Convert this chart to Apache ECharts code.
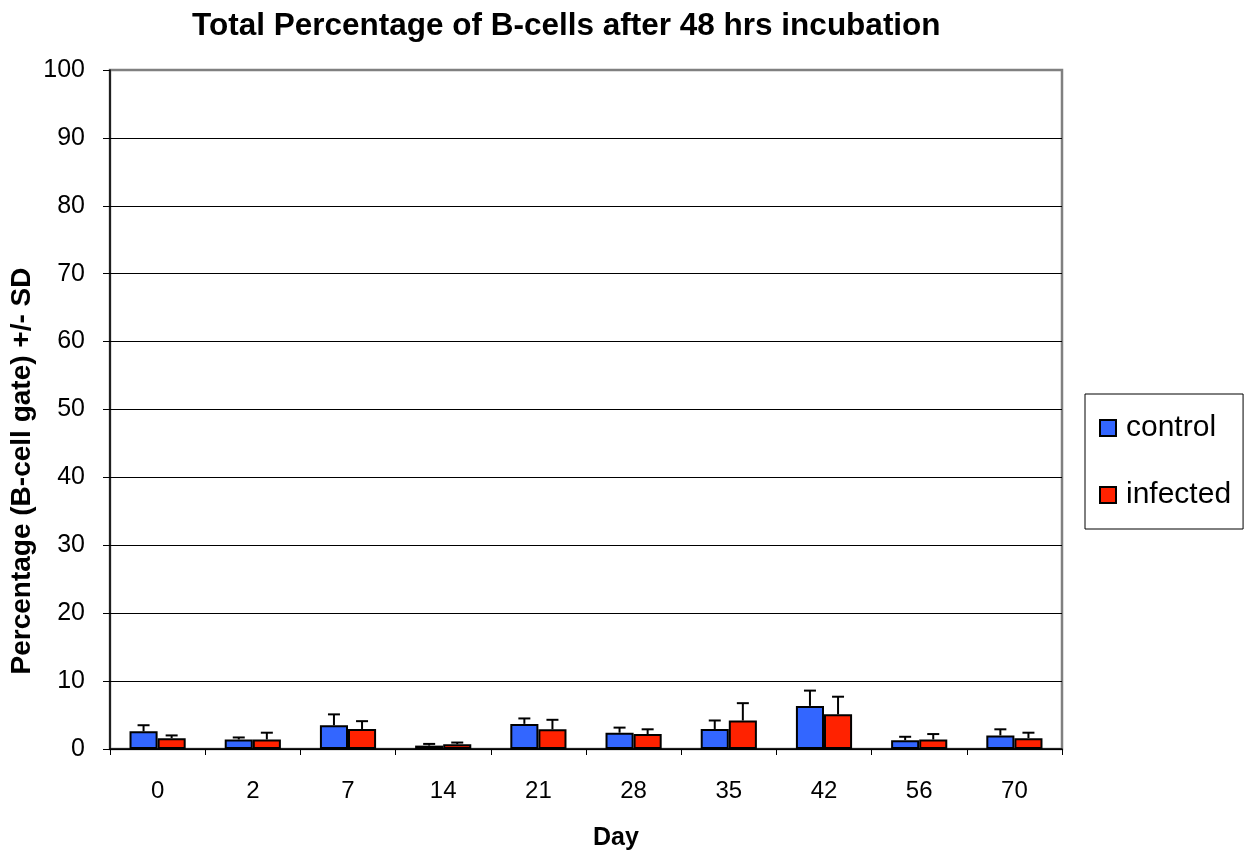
<!DOCTYPE html>
<html>
<head>
<meta charset="utf-8">
<script src="https://cdn.jsdelivr.net/npm/echarts@6/dist/echarts.min.js"></script>
<style>
html,body{margin:0;padding:0;background:#fff;}
#chart{width:1250px;height:853px;}
</style>
</head>
<body>
<div id="chart"></div>
<script>
var days = ['0','2','7','14','21','28','35','42','56','70'];
var control = [2.6,1.4,3.5,0.5,3.7,2.4,2.95,6.35,1.3,2.0];
var controlSD = [0.9,0.3,1.6,0.25,0.8,0.75,1.25,2.25,0.5,0.9];
var infected = [1.6,1.4,2.95,0.7,2.9,2.2,4.2,5.1,1.4,1.6];
var infectedSD = [0.4,1.0,1.15,0.25,1.4,0.7,2.55,2.6,0.8,0.8];
var seriesNames = ['control','infected'];
var titleText = 'Total Percentage of B-cells after 48 hrs incubation';
var yName = 'Percentage (B-cell gate) +/- SD';
var xName = 'Day';

var FONT = "'Liberation Sans', Arial, sans-serif";
var GAP = 0.41;

function errData(vals, sds){
  return vals.map(function(v,i){ return [i, v, sds[i]]; });
}
function errRender(side){
  return function(params, api){
    var i = api.value(0), v = api.value(1), sd = api.value(2);
    var band = api.size([1,0])[0];
    var bw = band*(1-GAP)/2;
    var base = api.coord([i, v]);
    var top = api.coord([i, v+sd]);
    var x = base[0] + side*bw/2;
    var cap = 6;
    return {
      type:'group',
      children:[
        {type:'line', shape:{x1:x,y1:base[1],x2:x,y2:top[1]}, style:{stroke:'#000',lineWidth:2}},
        {type:'line', shape:{x1:x-cap,y1:top[1],x2:x+cap,y2:top[1]}, style:{stroke:'#000',lineWidth:2}}
      ]
    };
  };
}

var chart = echarts.init(document.getElementById('chart'), null, {renderer:'canvas'});
chart.setOption({
  animation:false,
  backgroundColor:'#fff',
  title:{
    text:titleText, left:192, top:10, padding:0,
    textStyle:{fontFamily:FONT, fontSize:31.5, fontWeight:'bold', color:'#000'}
  },
  legend:{
    data:seriesNames, orient:'vertical', left:1085, top:394,
    padding:[19,12,19,14], itemGap:37, itemWidth:16, itemHeight:16,
    borderColor:'#000', borderWidth:1,
    icon:'rect',
    textStyle:{fontFamily:FONT, fontSize:30, color:'#000', padding:[0,0,0,5]}
  },
  grid:{left:110, right:188, top:70, bottom:104, show:true, borderColor:'#808080', borderWidth:2.5, backgroundColor:'#fff'},
  xAxis:{
    type:'category', data:days,
    axisLine:{lineStyle:{color:'#000', width:1.5}},
    axisTick:{show:true, length:6, inside:false, lineStyle:{color:'#000'}},
    axisLabel:{fontFamily:FONT, fontSize:24, color:'#000', margin:30},
    splitLine:{show:false}
  },
  yAxis:{
    type:'value', min:0, max:100, interval:10,
    axisLine:{show:true, lineStyle:{color:'#000', width:1.5}},
    axisTick:{show:true, length:7, lineStyle:{color:'#000'}},
    axisLabel:{fontFamily:FONT, fontSize:25, color:'#000', margin:25},
    splitLine:{show:true, showMaxLine:false, lineStyle:{color:'#000', width:1}}
  },
  graphic:[
    {type:'text', x:22, y:471, rotation:Math.PI/2,
     style:{text:yName, font:"bold 28px 'Liberation Sans', Arial, sans-serif", fill:'#000', align:'center', verticalAlign:'middle'}},
    {type:'text', x:616, y:838,
     style:{text:xName, font:"bold 25px 'Liberation Sans', Arial, sans-serif", fill:'#000', align:'center', verticalAlign:'middle'}}
  ],
  series:[
    {name:'control', type:'bar', data:control, barGap:'0%', barCategoryGap:(GAP*100)+'%',
     itemStyle:{color:'#3366FF', borderColor:'#000', borderWidth:2}},
    {name:'infected', type:'bar', data:infected, barGap:'0%', barCategoryGap:(GAP*100)+'%',
     itemStyle:{color:'#FF2200', borderColor:'#000', borderWidth:2}},
    {name:'control SD', type:'custom', data:errData(control, controlSD), renderItem:errRender(-1), z:3},
    {name:'infected SD', type:'custom', data:errData(infected, infectedSD), renderItem:errRender(1), z:3}
  ]
});
</script>
</body>
</html>
